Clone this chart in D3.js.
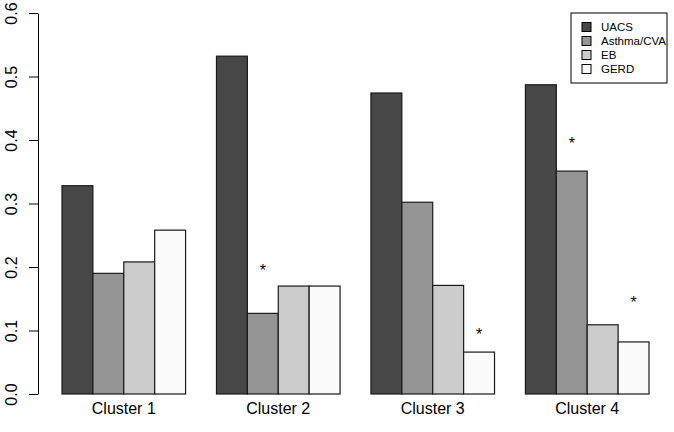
<!DOCTYPE html>
<html>
<head>
<meta charset="utf-8">
<script src="https://cdn.jsdelivr.net/npm/d3@7"></script>
<style>
  html, body { margin: 0; padding: 0; background: #fff; }
  svg { display: block; font-family: "Liberation Sans", Arial, sans-serif; }
</style>
</head>
<body>
<svg id="chart" width="674" height="432"></svg>
<script>
const clusters = ['Cluster 1', 'Cluster 2', 'Cluster 3', 'Cluster 4'];
const groups = ['UACS', 'Asthma/CVA', 'EB', 'GERD'];
const uacs = [0.328, 0.532, 0.474, 0.487];
const asthma = [0.190, 0.127, 0.302, 0.351];
const eb = [0.208, 0.170, 0.171, 0.109];
const gerd = [0.258, 0.170, 0.066, 0.082];
const yTicks = [0, 0.1, 0.2, 0.3, 0.4, 0.5, 0.6];
// significance stars: cluster, group, y position
const stars = [
  { cluster: 'Cluster 2', group: 'Asthma/CVA', y: 0.2 },
  { cluster: 'Cluster 3', group: 'GERD', y: 0.1 },
  { cluster: 'Cluster 4', group: 'Asthma/CVA', y: 0.4 },
  { cluster: 'Cluster 4', group: 'GERD', y: 0.15 }
];

const fills = { 'UACS': '#474747', 'Asthma/CVA': '#949494', 'EB': '#cccccc', 'GERD': '#fbfbfb' };
const series = [uacs, asthma, eb, gerd];

const svg = d3.select('#chart');

// R barplot layout: unit positions, bar width 1, group gap 1
const u = d3.scaleLinear().domain([1, 20]).range([62, 649]);
const x0 = d3.scaleBand().domain(clusters).range([u(1), u(20)]).paddingInner(0.2).paddingOuter(0);
const x1 = d3.scaleBand().domain(groups).range([0, x0.bandwidth()]).padding(0);
const y = d3.scaleLinear().domain([0, 0.6]).range([394, 13]);

const data = [];
clusters.forEach((c, i) => {
  groups.forEach((g, j) => data.push({ cluster: c, group: g, value: series[j][i] }));
});

svg.append('g')
  .selectAll('rect')
  .data(data)
  .join('rect')
  .attr('x', d => x0(d.cluster) + x1(d.group))
  .attr('y', d => y(d.value))
  .attr('width', x1.bandwidth())
  .attr('height', d => y(0) - y(d.value))
  .attr('fill', d => fills[d.group])
  .attr('stroke', '#1a1a1a')
  .attr('stroke-width', 1.2);

// y axis
const yAxis = svg.append('g')
  .attr('transform', 'translate(38,0)')
  .call(d3.axisLeft(y).tickValues(yTicks).tickFormat(d3.format('.1f')).tickSize(9).tickSizeOuter(0));
yAxis.select('.domain').attr('stroke', '#000').attr('stroke-width', 1);
yAxis.selectAll('.tick line').attr('stroke', '#000');
yAxis.selectAll('.tick text')
  .attr('x', null).attr('dy', null)
  .attr('transform', 'translate(-27,0) rotate(-90)')
  .attr('text-anchor', 'middle')
  .attr('dominant-baseline', 'central')
  .attr('font-size', 16)
  .attr('fill', '#000');

// cluster labels
svg.append('g')
  .selectAll('text')
  .data(clusters)
  .join('text')
  .attr('x', d => x0(d) + x0.bandwidth() / 2)
  .attr('y', 414)
  .attr('text-anchor', 'middle')
  .attr('font-size', 16)
  .attr('fill', '#000')
  .text(d => d);

// stars
svg.append('g')
  .selectAll('text')
  .data(stars)
  .join('text')
  .attr('x', d => x0(d.cluster) + x1(d.group) + x1.bandwidth() / 2)
  .attr('y', d => y(d.y) + 9)
  .attr('text-anchor', 'middle')
  .attr('font-size', 16)
  .attr('fill', '#000')
  .text('*');

// legend
const legend = svg.append('g').attr('transform', 'translate(571,13)');
legend.append('rect')
  .attr('width', 96).attr('height', 70)
  .attr('fill', '#fff').attr('stroke', '#000').attr('stroke-width', 1);
const rows = legend.selectAll('g.row')
  .data(groups)
  .join('g')
  .attr('class', 'row')
  .attr('transform', (d, i) => `translate(11,${14 + i * 14})`);
rows.append('rect')
  .attr('x', 0).attr('y', -4.5)
  .attr('width', 9).attr('height', 9)
  .attr('fill', d => fills[d])
  .attr('stroke', '#000').attr('stroke-width', 1);
rows.append('text')
  .attr('x', 19).attr('y', 0)
  .attr('dominant-baseline', 'central')
  .attr('font-size', 11.5)
  .attr('fill', '#000')
  .text(d => d);
</script>
</body>
</html>
